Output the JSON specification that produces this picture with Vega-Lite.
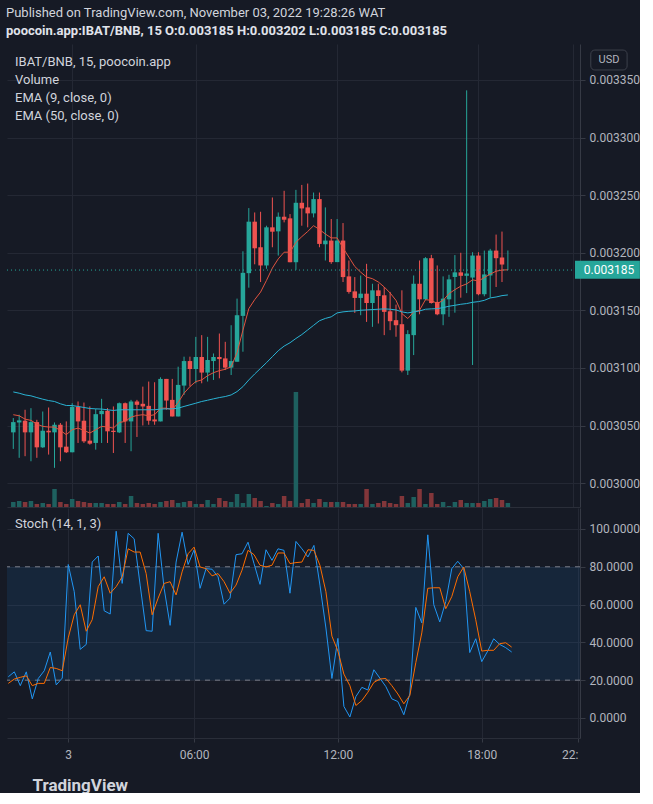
{
  "$schema": "https://vega.github.io/schema/vega-lite/v6.json",
  "background": "#161a25",
  "padding": {"left": 2, "top": 7, "right": 0, "bottom": 0},
  "title": {
    "text": "Published on TradingView.com, November 03, 2022 19:28:26 WAT",
    "subtitle": "poocoin.app:IBAT/BNB, 15 O:0.003185 H:0.003202 L:0.003185 C:0.003185",
    "anchor": "start", "frame": "group", "dx": -1,
    "font": "Roboto", "fontSize": 13, "fontWeight": "normal", "color": "#d1d4dc",
    "subtitleFont": "Roboto", "subtitleFontSize": 13, "subtitleFontWeight": "bold", "subtitleColor": "#e0e3eb",
    "subtitlePadding": 5, "offset": 6
  },
  "config": {
    "view": {"stroke": null, "fill": "#161a25"},
    "font": "Roboto",
    "axis": {"gridColor": "#242834", "gridWidth": 1, "domainColor": "#363a45", "tickColor": "#363a45", "labelColor": "#b2b5be", "labelFont": "Roboto", "labelFontSize": 12},
    "legend": {"labelFont": "Roboto"}
  },
  "datasets": {
    "c": [
      {"i":1,"o":0.0030441,"h":0.0030565,"l":0.0030297,"c":0.003053,"v":5000,"e9":0.0030594,"e50":0.0030792,"k":21.8,"d":18.3},
      {"i":2,"o":0.0030527,"h":0.0030594,"l":0.003022,"c":0.0030545,"v":6000,"e9":0.0030585,"e50":0.0030781,"k":24.4,"d":20.6},
      {"i":3,"o":0.0030542,"h":0.0030637,"l":0.0030234,"c":0.0030441,"v":5000,"e9":0.0030556,"e50":0.0030766,"k":17.1,"d":21.5},
      {"i":4,"o":0.0030441,"h":0.0030651,"l":0.003019,"c":0.003053,"v":6000,"e9":0.0030545,"e50":0.0030758,"k":24.4,"d":22.3},
      {"i":5,"o":0.003053,"h":0.003055,"l":0.003022,"c":0.0030311,"v":3000,"e9":0.0030513,"e50":0.0030743,"k":10.1,"d":17.1},
      {"i":6,"o":0.0030311,"h":0.0030622,"l":0.0030306,"c":0.0030455,"v":4000,"e9":0.0030493,"e50":0.0030729,"k":20.9,"d":18.3},
      {"i":7,"o":0.0030455,"h":0.0030657,"l":0.0030248,"c":0.0030441,"v":3000,"e9":0.0030487,"e50":0.0030717,"k":25,"d":18.3},
      {"i":8,"o":0.0030441,"h":0.0030527,"l":0.0030133,"c":0.0030507,"v":18000,"e9":0.0030487,"e50":0.0030709,"k":34.9,"d":26.7},
      {"i":9,"o":0.0030507,"h":0.0030522,"l":0.003019,"c":0.0030311,"v":5000,"e9":0.0030458,"e50":0.0030689,"k":17.5,"d":26.2},
      {"i":10,"o":0.0030317,"h":0.0030536,"l":0.0030262,"c":0.0030268,"v":3000,"e9":0.0030421,"e50":0.0030674,"k":21.1,"d":25},
      {"i":11,"o":0.0030268,"h":0.0030694,"l":0.0030268,"c":0.0030663,"v":8000,"e9":0.0030464,"e50":0.0030674,"k":81.2,"d":42.4},
      {"i":12,"o":0.0030663,"h":0.0030709,"l":0.0030349,"c":0.0030536,"v":6000,"e9":0.0030478,"e50":0.0030666,"k":66.8,"d":54.6},
      {"i":13,"o":0.0030542,"h":0.00307,"l":0.0030349,"c":0.0030363,"v":5000,"e9":0.0030458,"e50":0.0030657,"k":36.3,"d":59.9},
      {"i":14,"o":0.0030369,"h":0.0030666,"l":0.0030334,"c":0.0030343,"v":4000,"e9":0.0030435,"e50":0.0030648,"k":38.9,"d":45.9},
      {"i":15,"o":0.0030349,"h":0.0030645,"l":0.0030291,"c":0.0030599,"v":4000,"e9":0.0030464,"e50":0.0030645,"k":82.5,"d":52},
      {"i":16,"o":0.0030599,"h":0.0030732,"l":0.0030349,"c":0.0030628,"v":4000,"e9":0.0030493,"e50":0.0030643,"k":85.7,"d":69.5},
      {"i":17,"o":0.0030628,"h":0.0030651,"l":0.0030349,"c":0.003045,"v":3000,"e9":0.0030487,"e50":0.0030637,"k":56.7,"d":74.7},
      {"i":18,"o":0.0030455,"h":0.0030666,"l":0.0030262,"c":0.0030444,"v":3000,"e9":0.0030478,"e50":0.0030631,"k":55,"d":66},
      {"i":19,"o":0.0030441,"h":0.00307,"l":0.0030435,"c":0.0030694,"v":5000,"e9":0.0030527,"e50":0.0030637,"k":98.8,"d":69.5},
      {"i":20,"o":0.0030694,"h":0.00307,"l":0.0030349,"c":0.0030536,"v":3000,"e9":0.0030536,"e50":0.0030637,"k":71.2,"d":74.7},
      {"i":21,"o":0.0030536,"h":0.0030723,"l":0.0030277,"c":0.0030709,"v":11000,"e9":0.0030573,"e50":0.0030637,"k":97.7,"d":89.5},
      {"i":22,"o":0.0030709,"h":0.0030723,"l":0.0030401,"c":0.003068,"v":4000,"e9":0.0030588,"e50":0.0030637,"k":94.8,"d":87.8},
      {"i":23,"o":0.0030689,"h":0.0030838,"l":0.0030501,"c":0.0030666,"v":3000,"e9":0.0030594,"e50":0.0030637,"k":70.3,"d":87.8},
      {"i":24,"o":0.0030671,"h":0.0030882,"l":0.0030507,"c":0.0030542,"v":4000,"e9":0.0030585,"e50":0.0030637,"k":46.2,"d":76.4},
      {"i":25,"o":0.0030553,"h":0.0030876,"l":0.0030507,"c":0.0030536,"v":3000,"e9":0.0030594,"e50":0.0030637,"k":45.9,"d":54.6},
      {"i":26,"o":0.0030536,"h":0.0030919,"l":0.0030536,"c":0.0030905,"v":5000,"e9":0.0030651,"e50":0.0030643,"k":97.7,"d":63.4},
      {"i":27,"o":0.0030905,"h":0.0030905,"l":0.0030637,"c":0.0030717,"v":6000,"e9":0.0030651,"e50":0.0030645,"k":68.6,"d":71.2},
      {"i":28,"o":0.0030723,"h":0.0030905,"l":0.0030579,"c":0.0030579,"v":7000,"e9":0.0030637,"e50":0.0030645,"k":49,"d":72.1},
      {"i":29,"o":0.0030579,"h":0.0031011,"l":0.0030579,"c":0.0030853,"v":4000,"e9":0.00307,"e50":0.0030651,"k":82.5,"d":65.1},
      {"i":30,"o":0.0030847,"h":0.0031098,"l":0.0030766,"c":0.003106,"v":5000,"e9":0.0030781,"e50":0.0030666,"k":98.3,"d":77.3},
      {"i":31,"o":0.003106,"h":0.0031098,"l":0.0030838,"c":0.0030991,"v":6000,"e9":0.0030838,"e50":0.003068,"k":81.2,"d":86.9},
      {"i":32,"o":0.0030991,"h":0.003127,"l":0.0030867,"c":0.0031095,"v":3000,"e9":0.0030882,"e50":0.0030694,"k":89,"d":90.4},
      {"i":33,"o":0.0031095,"h":0.0031285,"l":0.0030867,"c":0.003096,"v":3000,"e9":0.0030896,"e50":0.0030709,"k":68.6,"d":79.9},
      {"i":34,"o":0.003096,"h":0.003127,"l":0.0030882,"c":0.0031069,"v":7000,"e9":0.0030933,"e50":0.003072,"k":79,"d":79},
      {"i":35,"o":0.003106,"h":0.0031126,"l":0.0030896,"c":0.0031095,"v":3000,"e9":0.0030959,"e50":0.0030732,"k":78.7,"d":75.2},
      {"i":36,"o":0.0031095,"h":0.0031299,"l":0.003091,"c":0.0031077,"v":9000,"e9":0.0030977,"e50":0.0030743,"k":74.7,"d":76.4},
      {"i":37,"o":0.0031083,"h":0.0031227,"l":0.0030982,"c":0.0031003,"v":6000,"e9":0.0030988,"e50":0.0030752,"k":60.2,"d":72.1},
      {"i":38,"o":0.0031003,"h":0.0031371,"l":0.0030939,"c":0.003106,"v":5000,"e9":0.0031011,"e50":0.0030766,"k":63.4,"d":66},
      {"i":39,"o":0.0031054,"h":0.0031602,"l":0.0031054,"c":0.0031458,"v":13000,"e9":0.0031132,"e50":0.0030795,"k":86.4,"d":70.3},
      {"i":40,"o":0.0031452,"h":0.0032013,"l":0.0031141,"c":0.0031826,"v":4000,"e9":0.0031328,"e50":0.0030838,"k":86.9,"d":78.2},
      {"i":41,"o":0.0031823,"h":0.0032388,"l":0.0031697,"c":0.003227,"v":13000,"e9":0.0031515,"e50":0.0030896,"k":93,"d":88.7},
      {"i":42,"o":0.003227,"h":0.003235,"l":0.00319,"c":0.0032039,"v":9000,"e9":0.0031593,"e50":0.0030948,"k":81.7,"d":86.4},
      {"i":43,"o":0.0032048,"h":0.0032356,"l":0.0031746,"c":0.003189,"v":6000,"e9":0.0031659,"e50":0.0030997,"k":70.7,"d":80.8},
      {"i":44,"o":0.003189,"h":0.0032235,"l":0.0031861,"c":0.0032221,"v":1000,"e9":0.003176,"e50":0.0031046,"k":89,"d":79.9},
      {"i":45,"o":0.0032221,"h":0.003248,"l":0.0032048,"c":0.0032183,"v":4000,"e9":0.0031867,"e50":0.0031098,"k":83.4,"d":80.8},
      {"i":46,"o":0.0032186,"h":0.003235,"l":0.0031976,"c":0.0032313,"v":3000,"e9":0.0031947,"e50":0.003115,"k":89.5,"d":87.3},
      {"i":47,"o":0.0032313,"h":0.0032538,"l":0.0032264,"c":0.0032287,"v":11000,"e9":0.0032005,"e50":0.003119,"k":88.7,"d":87.3},
      {"i":48,"o":0.0032299,"h":0.0032336,"l":0.0031918,"c":0.0031918,"v":6000,"e9":0.0032005,"e50":0.0031219,"k":66,"d":81.7},
      {"i":49,"o":0.0031918,"h":0.0032546,"l":0.0031852,"c":0.0032434,"v":115000,"e9":0.0032091,"e50":0.0031256,"k":93.4,"d":82.2},
      {"i":50,"o":0.0032434,"h":0.0032589,"l":0.0032235,"c":0.0032385,"v":4000,"e9":0.003214,"e50":0.003129,"k":89.5,"d":82.5},
      {"i":51,"o":0.0032394,"h":0.0032601,"l":0.0032221,"c":0.0032342,"v":8000,"e9":0.0032185,"e50":0.003133,"k":85.2,"d":89},
      {"i":52,"o":0.0032342,"h":0.0032523,"l":0.0032307,"c":0.0032466,"v":4000,"e9":0.0032235,"e50":0.003137,"k":91.3,"d":88.7},
      {"i":53,"o":0.0032466,"h":0.0032523,"l":0.0032048,"c":0.0032077,"v":8000,"e9":0.0032202,"e50":0.003141,"k":70.3,"d":80.8},
      {"i":54,"o":0.0032074,"h":0.0032394,"l":0.0031933,"c":0.0032106,"v":5000,"e9":0.0032163,"e50":0.003143,"k":47.6,"d":66.8},
      {"i":55,"o":0.0032106,"h":0.0032293,"l":0.0031904,"c":0.0031919,"v":5000,"e9":0.0032129,"e50":0.0031444,"k":20.9,"d":43.3},
      {"i":56,"o":0.0031919,"h":0.0032293,"l":0.0031919,"c":0.0032106,"v":5000,"e9":0.0032129,"e50":0.0031478,"k":42.1,"d":35.4},
      {"i":57,"o":0.0032106,"h":0.0032258,"l":0.0031746,"c":0.0031789,"v":5000,"e9":0.0032042,"e50":0.0031487,"k":6.1,"d":23.2},
      {"i":58,"o":0.0031795,"h":0.0031933,"l":0.0031645,"c":0.003166,"v":3000,"e9":0.0031962,"e50":0.0031492,"k":0.5,"d":17.1},
      {"i":59,"o":0.0031665,"h":0.0031789,"l":0.0031478,"c":0.0031608,"v":3000,"e9":0.0031881,"e50":0.0031495,"k":11.3,"d":6.6},
      {"i":60,"o":0.0031608,"h":0.0031803,"l":0.0031458,"c":0.0031645,"v":3000,"e9":0.0031832,"e50":0.0031501,"k":16.2,"d":9.2},
      {"i":61,"o":0.0031645,"h":0.0031904,"l":0.00314,"c":0.0031564,"v":18000,"e9":0.0031789,"e50":0.0031504,"k":14.8,"d":13.6},
      {"i":62,"o":0.0031564,"h":0.0031731,"l":0.0031357,"c":0.0031674,"v":3000,"e9":0.0031775,"e50":0.0031507,"k":25.5,"d":18.8},
      {"i":63,"o":0.0031674,"h":0.0031731,"l":0.0031386,"c":0.0031625,"v":4000,"e9":0.0031746,"e50":0.003151,"k":21.1,"d":20.6},
      {"i":64,"o":0.0031631,"h":0.0031703,"l":0.0031285,"c":0.0031487,"v":6000,"e9":0.0031703,"e50":0.0031513,"k":16.6,"d":20.9},
      {"i":65,"o":0.0031492,"h":0.003166,"l":0.0031328,"c":0.0031406,"v":4000,"e9":0.0031651,"e50":0.003151,"k":10.1,"d":17.1},
      {"i":66,"o":0.0031415,"h":0.003155,"l":0.0031271,"c":0.0031371,"v":3000,"e9":0.0031587,"e50":0.0031504,"k":8.7,"d":12.7},
      {"i":67,"o":0.003138,"h":0.0031674,"l":0.0030962,"c":0.0030977,"v":11000,"e9":0.0031472,"e50":0.0031487,"k":1.7,"d":7.5},
      {"i":68,"o":0.0030977,"h":0.0031328,"l":0.0030939,"c":0.0031294,"v":4000,"e9":0.0031429,"e50":0.0031478,"k":12.7,"d":11.9},
      {"i":69,"o":0.0031285,"h":0.0031803,"l":0.0031112,"c":0.0031731,"v":10000,"e9":0.0031487,"e50":0.0031487,"k":58.5,"d":29.3},
      {"i":70,"o":0.0031731,"h":0.0031933,"l":0.0031466,"c":0.0031596,"v":18000,"e9":0.0031501,"e50":0.0031495,"k":50.3,"d":45},
      {"i":71,"o":0.0031596,"h":0.0031962,"l":0.0031587,"c":0.0031953,"v":3000,"e9":0.0031593,"e50":0.003151,"k":96.9,"d":68.6},
      {"i":72,"o":0.0031953,"h":0.0031982,"l":0.0031559,"c":0.0031564,"v":14000,"e9":0.0031587,"e50":0.0031513,"k":59.9,"d":68.9},
      {"i":73,"o":0.0031573,"h":0.003189,"l":0.0031458,"c":0.0031466,"v":3000,"e9":0.0031559,"e50":0.0031515,"k":50.8,"d":68.9},
      {"i":74,"o":0.0031466,"h":0.0031795,"l":0.0031371,"c":0.0031602,"v":5000,"e9":0.0031587,"e50":0.0031524,"k":61.6,"d":57.8},
      {"i":75,"o":0.0031596,"h":0.0031809,"l":0.0031444,"c":0.0031769,"v":1000,"e9":0.0031645,"e50":0.0031536,"k":79,"d":64.2},
      {"i":76,"o":0.003179,"h":0.003198,"l":0.003148,"c":0.003183,"v":5000,"e9":0.003168,"e50":0.0031544,"k":82.9,"d":74.7},
      {"i":77,"o":0.003183,"h":0.0032,"l":0.003161,"c":0.00318,"v":7000,"e9":0.003171,"e50":0.0031553,"k":79,"d":79.9},
      {"i":78,"o":0.00318,"h":0.003341,"l":0.003165,"c":0.003182,"v":4000,"e9":0.003173,"e50":0.0031559,"k":34.6,"d":66.8},
      {"i":79,"o":0.0031785,"h":0.0032005,"l":0.0031026,"c":0.0031976,"v":4000,"e9":0.0031765,"e50":0.003157,"k":41.9,"d":52},
      {"i":80,"o":0.0031976,"h":0.0032005,"l":0.0031631,"c":0.003164,"v":4000,"e9":0.0031755,"e50":0.0031576,"k":29.8,"d":35.4},
      {"i":81,"o":0.003164,"h":0.0032019,"l":0.0031622,"c":0.0031812,"v":6000,"e9":0.0031785,"e50":0.0031587,"k":35.4,"d":35.8},
      {"i":82,"o":0.0031803,"h":0.0032034,"l":0.0031611,"c":0.0032019,"v":8000,"e9":0.0031815,"e50":0.0031608,"k":41.9,"d":35.8},
      {"i":83,"o":0.0032019,"h":0.0032158,"l":0.0031703,"c":0.0031953,"v":9000,"e9":0.003184,"e50":0.0031616,"k":38.9,"d":39.3},
      {"i":84,"o":0.0031959,"h":0.0032184,"l":0.0031746,"c":0.0031898,"v":7000,"e9":0.003185,"e50":0.0031628,"k":37.2,"d":39.8},
      {"i":85,"o":0.003185,"h":0.003202,"l":0.003185,"c":0.003185,"v":4000,"e9":0.0031852,"e50":0.0031634,"k":34.9,"d":37.5}
    ]
  },
  "spacing": 1,
  "resolve": {"scale": {"color": "independent", "x": "independent", "y": "independent"}, "legend": {"color": "independent"}},
  "vconcat": [
    {
      "width": 573,
      "height": 463,
      "data": {"name": "c"},
      "resolve": {"scale": {"y": "independent"}},
      "layer": [
        {
          "mark": {"type": "bar", "size": 4.5},
          "encoding": {
            "x": {"field": "i", "type": "quantitative", "scale": {"domain": [0.78, 96.4], "nice": false, "zero": false},
                  "axis": {"orient": "bottom", "values": [11, 32, 56, 80, 96], "labels": false, "ticks": false, "domain": true, "domainColor": "#2a2e39", "grid": true, "title": null}},
            "y": {"field": "v", "type": "quantitative", "scale": {"domain": [0, 463000], "nice": false}, "axis": null},
            "color": {"condition": {"test": "datum.c >= datum.o", "value": "#1e605f"}, "value": "#82363a"}
          }
        },
        {
          "layer": [
            {
              "mark": {"type": "rule", "strokeWidth": 1},
              "encoding": {
                "x": {"field": "i", "type": "quantitative"},
                "y": {"field": "l", "type": "quantitative", "scale": {"domain": [0.0029793, 0.00338125], "nice": false, "zero": false},
                      "axis": {"orient": "right", "values": [0.003, 0.00305, 0.0031, 0.00315, 0.0032, 0.00325, 0.0033, 0.00335], "format": ".6f", "grid": true, "tickSize": 5, "labelPadding": 4, "domain": true, "title": null}},
                "y2": {"field": "h"},
                "color": {"condition": {"test": "datum.c >= datum.o", "value": "#26a69a"}, "value": "#ef5350"}
              }
            },
            {
              "mark": {"type": "bar", "size": 4.5},
              "encoding": {
                "x": {"field": "i", "type": "quantitative"},
                "y": {"field": "o", "type": "quantitative"},
                "y2": {"field": "c"},
                "color": {"condition": {"test": "datum.c >= datum.o", "value": "#26a69a"}, "value": "#ef5350"}
              }
            },
            {
              "transform": [{"fold": ["e9", "e50"], "as": ["series", "val"]}],
              "mark": {"type": "line", "strokeWidth": 1},
              "encoding": {
                "x": {"field": "i", "type": "quantitative"},
                "y": {"field": "val", "type": "quantitative"},
                "color": {"field": "series", "type": "nominal",
                  "scale": {"domain": ["IBAT/BNB, 15, poocoin.app", "Volume", "e9", "e50"], "range": ["#d1d4dc", "#d1d4dc", "#e0533f", "#2ab3d4"]},
                  "legend": {"orient": "none", "legendX": -5, "legendY": 11, "title": null, "padding": 0, "symbolOpacity": 0, "symbolSize": 0, "symbolStrokeWidth": 0, "labelOffset": 0, "labelFontSize": 13, "labelColor": "#d1d4dc", "rowPadding": 4, "labelLimit": 400,
                    "labelExpr": "datum.label == 'e9' ? 'EMA (9, close, 0)' : datum.label == 'e50' ? 'EMA (50, close, 0)' : datum.label"}
                }
              }
            },
            {
              "data": {"values": [{}]},
              "mark": {"type": "rule", "strokeDash": [1, 3], "color": "#26a69a", "strokeWidth": 1},
              "encoding": {"y": {"datum": 0.003185, "type": "quantitative"}}
            },
            {
              "data": {"values": [{}]},
              "mark": {"type": "rect", "color": "#26a69a"},
              "encoding": {"x": {"datum": 96.4, "type": "quantitative"}, "x2": {"datum": 107.42}, "y": {"datum": 0.0031931, "type": "quantitative"}, "y2": {"datum": 0.0031775}}
            },
            {
              "data": {"values": [{}]},
              "mark": {"type": "text", "align": "left", "baseline": "middle", "color": "#ffffff", "fontSize": 12, "font": "Roboto"},
              "encoding": {"x": {"datum": 97.9, "type": "quantitative"}, "y": {"datum": 0.003185, "type": "quantitative"}, "text": {"value": "0.003185"}}
            },
            {
              "data": {"values": [{}]},
              "mark": {"type": "rect", "fill": "transparent", "stroke": "#3c404b", "strokeWidth": 1, "cornerRadius": 4},
              "encoding": {"x": {"datum": 99.08, "type": "quantitative"}, "x2": {"datum": 105.25}, "y": {"datum": 0.003376, "type": "quantitative"}, "y2": {"datum": 0.0033587}}
            },
            {
              "data": {"values": [{}]},
              "mark": {"type": "text", "align": "center", "baseline": "middle", "color": "#b2b5be", "fontSize": 11, "font": "Roboto"},
              "encoding": {"x": {"datum": 102.17, "type": "quantitative"}, "y": {"datum": 0.0033674, "type": "quantitative"}, "text": {"value": "USD"}}
            }
          ]
        }
      ]
    },
    {
      "width": 573,
      "height": 230,
      "data": {"name": "c"},
      "layer": [
        {
          "data": {"values": [{}]},
          "mark": {"type": "rect", "color": "#2196f3", "opacity": 0.1},
          "encoding": {
            "y": {"datum": 80, "type": "quantitative", "scale": {"domain": [-10.6, 111.1], "nice": false, "zero": false}},
            "y2": {"datum": 20}
          }
        },
        {
          "data": {"values": [{"lv": 80}, {"lv": 20}]},
          "mark": {"type": "rule", "strokeDash": [5, 5], "color": "#787b86", "strokeWidth": 1},
          "encoding": {"y": {"field": "lv", "type": "quantitative", "scale": {"domain": [-10.6, 111.1], "nice": false, "zero": false}}}
        },
        {
          "transform": [{"fold": ["k", "d"], "as": ["series", "val"]}],
          "mark": {"type": "line", "strokeWidth": 1},
          "encoding": {
            "x": {"field": "i", "type": "quantitative", "scale": {"domain": [0.78, 96.4], "nice": false, "zero": false},
                  "axis": {"orient": "bottom", "values": [11, 32, 56, 80, 96], "grid": true, "domain": true, "domainColor": "#2a2e39", "ticks": true, "tickSize": 4, "labelPadding": 7, "labelFlush": false, "labelOverlap": false,
                    "labelExpr": "datum.value == 11 ? '3' : datum.value == 32 ? '06:00' : datum.value == 56 ? '12:00' : datum.value == 80 ? '18:00' : '22:'",
                    "labelAlign": {"condition": {"test": "datum.value > 90", "value": "left"}, "value": "center"},
                    "labelOffset": {"condition": {"test": "datum.value > 90", "value": -16}, "value": 0},
                    "title": "TradingView", "titleFont": "Roboto", "titleFontSize": 17, "titleFontWeight": "bold", "titleColor": "#d1d4dc", "titleAnchor": "start", "titleAlign": "left", "titleX": 25, "titlePadding": 17, "titleBaseline": "top"}},
            "y": {"field": "val", "type": "quantitative", "scale": {"domain": [-10.6, 111.1], "nice": false, "zero": false},
                  "axis": {"orient": "right", "values": [0, 20, 40, 60, 80, 100], "format": ".4f", "grid": true, "tickSize": 5, "labelPadding": 4, "title": null}},
            "color": {"field": "series", "type": "nominal",
              "scale": {"domain": ["Stoch (14, 1, 3)", "k", "d"], "range": ["#d1d4dc", "#2196f3", "#ff6d00"]},
              "legend": {"orient": "none", "legendX": -5, "legendY": 9, "title": null, "padding": 0, "values": ["Stoch (14, 1, 3)"], "symbolOpacity": 0, "symbolSize": 0, "symbolStrokeWidth": 0, "labelOffset": 0, "labelFontSize": 13, "labelColor": "#d1d4dc", "labelLimit": 300}
            }
          }
        }
      ]
    }
  ]
}
